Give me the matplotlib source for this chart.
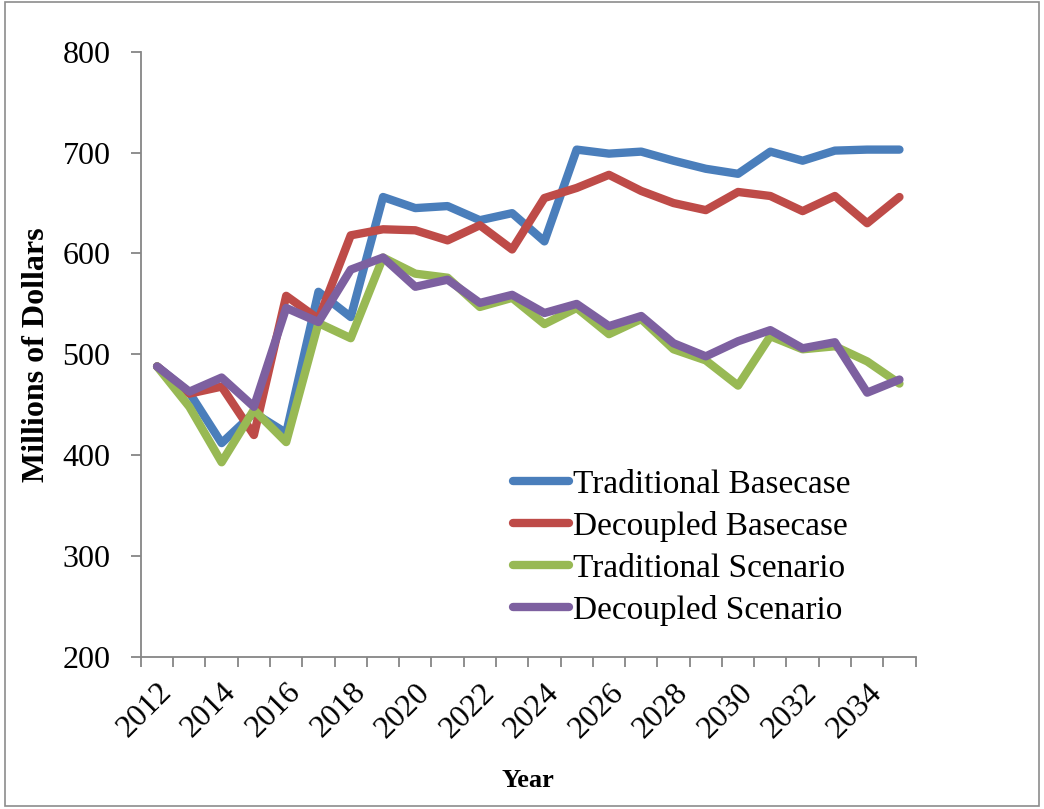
import numpy as np
import matplotlib.pyplot as plt
from matplotlib.patches import Rectangle
from matplotlib.transforms import ScaledTranslation

years = list(range(2012, 2036))
trad_base = [488, 462, 412, 442, 422, 562, 537, 656, 645, 647, 633, 640, 612,
             703, 699, 701, 692, 684, 679, 701, 692, 702, 703, 703]
dec_base = [488, 461, 468, 420, 558, 535, 618, 624, 623, 613, 628, 604, 655,
            665, 678, 662, 650, 643, 661, 657, 642, 657, 630, 656]
trad_scen = [488, 448, 393, 445, 413, 531, 516, 596, 580, 576, 547, 556, 530,
             546, 520, 535, 505, 494, 469, 518, 505, 508, 493, 471]
dec_scen = [488, 463, 477, 448, 546, 532, 584, 596, 567, 574, 551, 559, 541,
            550, 528, 538, 511, 498, 513, 524, 506, 512, 462, 475]

series = [
    ("Traditional Basecase", trad_base, "#4A7EBB"),
    ("Decoupled Basecase", dec_base, "#BE4B48"),
    ("Traditional Scenario", trad_scen, "#98B954"),
    ("Decoupled Scenario", dec_scen, "#7D60A0"),
]

plt.rcParams['font.family'] = ['Liberation Serif', 'DejaVu Serif']

fig = plt.figure(figsize=(10.44, 8.09), dpi=100)
ax = fig.add_axes([0.135, 0.188, 0.742, 0.748])

x = np.arange(len(years))
for name, vals, col in series:
    ax.plot(x, vals, color=col, lw=6, label=name,
            solid_capstyle='round', solid_joinstyle='round')

ax.set_xlim(-0.5, len(years) - 0.5)
ax.set_ylim(200, 800)
ax.set_yticks(range(200, 801, 100))

# tick marks on category boundaries, labels on every other year
ax.set_xticks(np.arange(len(years) + 1) - 0.5)
ax.set_xticklabels([])
ax.set_xticks(x[::2], minor=True)
ax.set_xticklabels([str(y) for y in years[::2]], minor=True,
                   rotation=45, ha='right', va='top', rotation_mode='anchor')
shift = ScaledTranslation(-8 / 100, 0, fig.dpi_scale_trans)
for lbl in ax.get_xticklabels(minor=True):
    lbl.set_transform(lbl.get_transform() + shift)

gray = '#868686'
for s in ['top', 'right']:
    ax.spines[s].set_visible(False)
for s in ['left', 'bottom']:
    ax.spines[s].set_color(gray)
    ax.spines[s].set_linewidth(1.3)
ax.tick_params(axis='y', which='major', direction='out', length=7, width=1.3,
               color=gray, labelsize=23, pad=15)
ax.tick_params(axis='x', which='major', direction='out', length=7, width=1.3,
               color=gray)
ax.tick_params(axis='x', which='minor', length=0, labelsize=23, pad=15)

ax.set_ylabel('Millions of Dollars', fontsize=23, fontweight='bold', labelpad=8)
ax.set_xlabel('Year', fontsize=19, fontweight='bold', labelpad=18)

ax.legend(loc='upper left', bbox_to_anchor=(0.491, 0.4196),
          bbox_transform=fig.transFigure, frameon=False, fontsize=24,
          handlelength=1.7, handletextpad=0.12, labelspacing=0.33,
          borderpad=0, borderaxespad=0)

fig.patches.append(Rectangle((0.005, 0.004), 0.99, 0.993, transform=fig.transFigure,
                             fill=False, edgecolor='#8c8c8c', lw=1.2))

fig.savefig('out.png', dpi=100)
